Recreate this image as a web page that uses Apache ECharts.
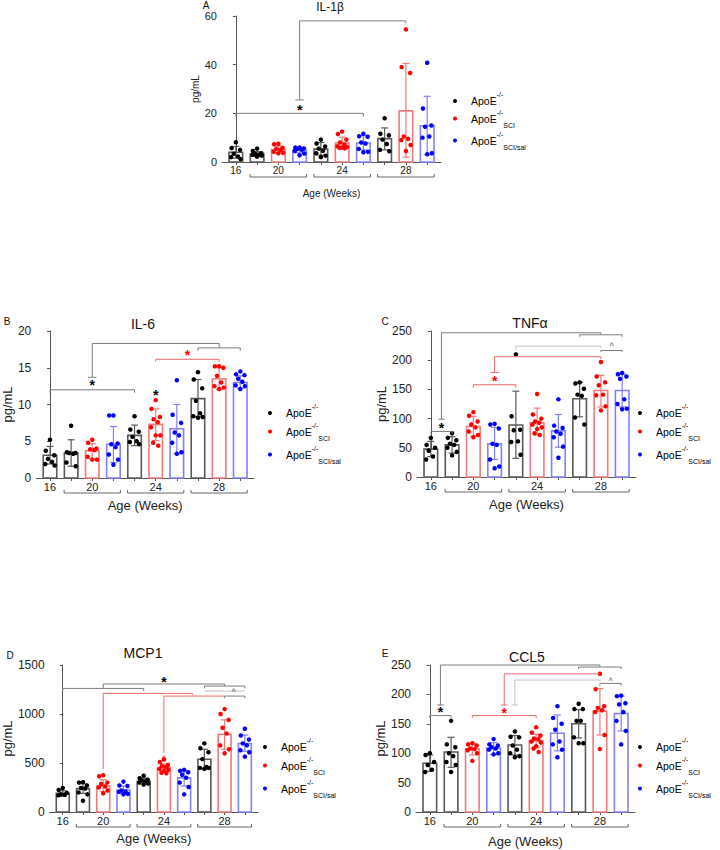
<!DOCTYPE html>
<html><head><meta charset="utf-8">
<script src="https://cdn.jsdelivr.net/npm/echarts@6/dist/echarts.min.js"></script>
<style>html,body{margin:0;padding:0;background:#fff}#c{width:720px;height:850px}</style>
</head><body><div id="c"></div>
<script>
// ---------- shared categories ----------
const groupLabels = ['16', '20', '24', '28'];
const groupLabelAt = [0, 2, 5, 8];          // bar index under which each age label sits
const groupSpans = [[1, 3], [4, 6], [7, 9]]; // bars covered by the age brackets
const barIndex = [0, 1, 2, 3, 4, 5, 6, 7, 8, 9];
const barGroup = [0, 0, 1, 2, 0, 1, 2, 0, 1, 2]; // 0 ApoE-/-, 1 SCI, 2 SCI/sal
const seriesNames = ['ApoE-/-', 'ApoE-/- SCI', 'ApoE-/- SCI/sal'];
const legendBase = 'ApoE', legendSup = '-/-', legendSub = ['', 'SCI', 'SCI/sal'];

// ---------- A: IL-1β ----------
const il1bMean  = [4.0, 3.3, 5.1, 4.8, 5.3, 7.8, 7.8, 9.6, 21.0, 14.9];
const il1bUpper = [6.4, 4.3, 6.5, 5.8, 8.0, 10.2, 10.8, 14.0, 40.5, 27.0];
const il1bLower = [1.6, 2.3, 3.8, 3.8, 2.8, 5.5, 5.0, 5.0, 2.0, 3.0];
const il1bPoints = [
  [8.1, 5.7, 5.0, 3.4, 2.3, 2.0, 1.2],
  [5.5, 4.5, 3.6, 3.4, 3.1, 3.0, 2.6, 2.2],
  [7.5, 7.3, 5.8, 5.4, 5.0, 4.2, 3.8, 3.6],
  [6.0, 5.9, 5.6, 5.4, 5.0, 4.5, 3.5, 2.8],
  [9.2, 7.6, 6.4, 5.5, 4.6, 3.6, 2.6, 2.0],
  [12.5, 11.5, 9.2, 8.0, 7.2, 6.5, 6.2, 6.0, 5.8, 5.6],
  [11.6, 10.6, 10.4, 8.0, 7.6, 5.4, 4.2, 4.0],
  [18.0, 11.6, 11.0, 9.2, 7.4, 5.0, 4.4],
  [54.5, 39.0, 36.6, 10.5, 9.5, 9.0, 7.0, 4.5],
  [40.8, 22.0, 15.0, 14.5, 10.5, 10.0, 3.6, 3.2]
];
const il1bLines = [
  {c: 0, p: [[0, 18.7], [0, 20], [6, 20], [6, 18.7]]},
  {c: 0, p: [[2.8, 25.5], [3.2, 25.5]]},
  {c: 0, p: [[3, 25.5], [3, 58], [8, 58], [8, 57]]}
];
const il1bMarks = [[3, 22.8, '*', 0]];

// ---------- B: IL-6 ----------
const il6Mean  = [3.1, 3.4, 3.7, 4.6, 5.8, 7.3, 6.7, 10.8, 13.5, 13.0];
const il6Upper = [4.3, 5.2, 4.7, 7.0, 7.2, 9.4, 10.0, 13.4, 15.0, 13.9];
const il6Lower = [1.9, 1.6, 2.6, 2.1, 4.4, 5.1, 3.3, 8.3, 12.0, 12.2];
const il6Points = [
  [5.2, 3.7, 3.1, 2.6, 2.2, 1.9, 1.7],
  [7.1, 3.5, 3.4, 3.4, 3.3, 2.1, 1.6],
  [5.2, 4.8, 4.0, 3.9, 3.8, 2.9, 2.5, 2.5],
  [8.5, 8.5, 4.7, 4.6, 4.2, 3.2, 2.5, 1.8],
  [8.4, 6.6, 6.3, 5.6, 5.0, 4.9, 4.6],
  [10.6, 9.4, 8.3, 8.0, 7.6, 6.9, 5.8, 5.8, 4.8, 4.4],
  [13.3, 8.6, 7.5, 6.2, 5.8, 4.8, 3.5, 3.3],
  [14.4, 13.4, 12.2, 10.5, 8.8, 8.4, 8.3, 8.2],
  [15.2, 15.2, 15.0, 13.9, 13.0, 12.5, 12.3, 12.1],
  [14.5, 14.1, 14.0, 13.5, 13.1, 12.6, 12.5, 12.1]
];
const il6Lines = [
  {c: 0, p: [[0, 11.6], [0, 12.0], [4, 12.0], [4, 11.6]]},
  {c: 0, p: [[1.8, 13.7], [2.2, 13.7]]},
  {c: 0, p: [[2, 13.7], [2, 18.3], [8, 18.3], [8, 17.7]]},
  {c: 0, p: [[7, 17.3], [7, 17.7], [9, 17.7], [9, 17.3]]},
  {c: 1, p: [[5, 15.8], [5, 16.15], [8, 16.15], [8, 15.8]]}
];
const il6Marks = [[2, 13.0, '*', 0], [6.5, 17.2, '*', 1], [5, 11.7, '*', 0]];

// ---------- C: TNFα ----------
const tnfMean  = [47.8, 55, 86.5, 57, 89, 93, 79, 134, 148, 148];
const tnfUpper = [61, 69, 104, 85, 147, 118, 107, 162, 174, 176];
const tnfLower = [35, 41, 70, 30, 32, 72, 51, 103, 120, 120];
const tnfPoints = [
  [67, 55, 50, 45, 35, 30],
  [75, 67, 63, 57, 55, 50, 43, 37],
  [111, 105, 95, 90, 85, 78, 72, 68],
  [91, 90, 83, 57, 55, 30, 18, 15],
  [210, 104, 81, 80, 61, 60, 38],
  [142, 107, 100, 95, 93, 90, 85, 82, 75, 72],
  [133, 88, 84, 78, 74, 68, 52, 33],
  [162, 160, 151, 141, 139, 102, 90],
  [197, 172, 162, 157, 141, 140, 121, 114],
  [178, 176, 172, 168, 133, 125, 117, 116]
];
const tnfLines = [
  {c: 0, p: [[0, 74], [0, 78], [1, 78], [1, 74]]},
  {c: 0, p: [[0.35, 99], [0.65, 99]]},
  {c: 0, p: [[0.5, 99], [0.5, 247], [8, 247], [8, 243.5]]},
  {c: 0, p: [[7, 240], [7, 243.5], [9, 243.5], [9, 240]]},
  {c: 2, p: [[4, 217], [4, 224], [8, 224], [8, 221]]},
  {c: 0, p: [[8, 214], [8, 216.6], [9, 216.6], [9, 214]]},
  {c: 1, p: [[2, 153], [2, 158], [4, 158], [4, 153]]},
  {c: 1, p: [[2.8, 179], [3.2, 179]]},
  {c: 1, p: [[3, 179], [3, 206], [8, 206], [8, 202]]}
];
const tnfMarks = [[0.5, 89, '*', 0], [3, 170, '*', 1], [8.5, 227, '^', 0]];

// ---------- D: MCP1 ----------
const mcp1Mean  = [190, 239, 266, 225, 313, 450, 348, 539, 794, 699];
const mcp1Upper = [217, 288, 330, 265, 345, 490, 420, 640, 940, 785];
const mcp1Lower = [160, 190, 210, 185, 285, 410, 265, 440, 640, 620];
const mcp1Points = [
  [245, 225, 195, 180, 175, 170],
  [305, 300, 270, 245, 240, 200, 180, 115],
  [375, 365, 300, 285, 260, 250, 220, 190],
  [310, 270, 265, 220, 210, 205, 185, 180],
  [370, 345, 330, 320, 315, 300, 290, 280],
  [535, 510, 480, 470, 460, 440, 430, 420, 400, 395],
  [430, 420, 405, 380, 350, 300, 255, 180],
  [700, 650, 610, 540, 460, 450, 450, 440],
  [1050, 1000, 940, 860, 800, 680, 640, 600],
  [850, 780, 740, 700, 680, 630, 610, 565]
];
const mcp1Lines = [
  {c: 0, p: [[0, 1235], [0, 1261], [4, 1261], [4, 1235]]},
  {c: 0, p: [[2, 1261], [2, 1306], [8, 1306], [8, 1285]]},
  {c: 0, p: [[7, 1262], [7, 1285], [9, 1285], [9, 1262]]},
  {c: 2, p: [[7, 1234], [9, 1234]]},
  {c: 0, p: [[8, 1160], [8, 1183], [9, 1183], [9, 1160]]},
  {c: 1, p: [[2, 440], [2, 1210], [6.4, 1210], [6.4, 1195]]},
  {c: 1, p: [[5, 600], [5, 1183], [8, 1183]]}
];
const mcp1Marks = [[5, 1354, '*', 0], [8.45, 1244, '^', 0], [5, 560, '^', 1]];

// ---------- E: CCL5 ----------
const ccl5Mean  = [83, 102, 107.5, 108.6, 114, 121, 134, 150, 171.6, 167.6];
const ccl5Upper = [97, 127, 117, 118, 130, 132, 165, 174, 210, 197];
const ccl5Lower = [69, 76, 97, 98, 97, 109, 104, 126, 131, 138];
const ccl5Points = [
  [100, 97, 85, 80, 72, 68],
  [155, 115, 110, 100, 95, 85, 80, 68],
  [117, 115, 113, 108, 107, 105, 100, 87],
  [124, 115, 113, 110, 108, 106, 100, 98],
  [137, 128, 127, 113, 106, 100, 95, 93],
  [144, 135, 130, 125, 124, 120, 118, 112, 108, 102],
  [180, 160, 150, 140, 120, 115, 106, 93],
  [184, 175, 175, 155, 155, 127, 117, 117],
  [235, 209, 180, 177, 173, 170, 131, 107],
  [198, 197, 185, 183, 170, 155, 138, 115]
];
const ccl5Lines = [
  {c: 0, p: [[0, 160], [0, 164], [1, 164], [1, 160]]},
  {c: 0, p: [[0.35, 182], [0.65, 182]]},
  {c: 0, p: [[0.5, 182], [0.5, 250], [8, 250], [8, 246.5]]},
  {c: 0, p: [[7, 243], [7, 246.5], [9, 246.5], [9, 243]]},
  {c: 1, p: [[2, 160], [2, 164], [5, 164], [5, 160]]},
  {c: 1, p: [[3.35, 182], [3.65, 182]]},
  {c: 1, p: [[3.5, 182], [3.5, 235], [8, 235]]},
  {c: 2, p: [[3.85, 182], [4.15, 182]]},
  {c: 2, p: [[4, 182], [4, 224.5], [8, 224.5], [8, 221]]},
  {c: 0, p: [[8, 215], [8, 218.7], [9, 218.7], [9, 215]]}
];
const ccl5Marks = [[0.5, 175, '*', 0], [3.5, 174, '*', 1], [8.5, 226, '^', 0]];

// ---------- styling / layout ----------
const FONT = '"Liberation Sans", Arial, Helvetica, sans-serif';
const DOT_COLORS = ['#000000', '#ff0000', '#0000ff'];
const BAR_COLORS = ['#5a5a5a', '#f17a7a', '#8282f7'];
const ANNOT_COLORS = ['#7d7d7d', '#f06a6a', '#c2c2c2'];
const JITTER = [0, -0.2, 0.2, -0.1, 0.1, -0.22, 0.22, 0, -0.12, 0.12, 0];
const HALF = 0.32;

const panels = [
  {letter: 'A', title: 'IL-1β', mean: il1bMean, upper: il1bUpper, lower: il1bLower, pts: il1bPoints,
   lines: il1bLines, marks: il1bMarks, max: 60, step: 20,
   grid: {left: 222, top: 16, width: 219, height: 146}, fs: 10, nameFs: 10, yGap: 20, xGap: 26,
   titleXY: [330, 7], titleFs: 12, letterXY: [206, 5], legendXY: [453, 91], legendGap: 2},
  {letter: 'B', title: 'IL-6', mean: il6Mean, upper: il6Upper, lower: il6Lower, pts: il6Points,
   lines: il6Lines, marks: il6Marks, max: 20, step: 5,
   grid: {left: 35, top: 331, width: 219, height: 147}, fs: 11, nameFs: 13, yGap: 15, xGap: 21,
   titleXY: [143, 324], titleFs: 14, letterXY: [7, 321], legendXY: [268, 403], legendGap: 3},
  {letter: 'C', title: 'TNFα', mean: tnfMean, upper: tnfUpper, lower: tnfLower, pts: tnfPoints,
   lines: tnfLines, marks: tnfMarks, max: 250, step: 50,
   grid: {left: 417, top: 331, width: 219, height: 146}, fs: 11, nameFs: 13, yGap: 23, xGap: 21,
   titleXY: [530, 323], titleFs: 14, letterXY: [385, 321], legendXY: [638, 403], legendGap: 3},
  {letter: 'D', title: 'MCP1', mean: mcp1Mean, upper: mcp1Upper, lower: mcp1Lower, pts: mcp1Points,
   lines: mcp1Lines, marks: mcp1Marks, max: 1500, step: 500,
   grid: {left: 39, top: 665, width: 219, height: 147}, fs: 11, nameFs: 13, yGap: 18, xGap: 20,
   titleXY: [143, 653], titleFs: 14, letterXY: [10, 655], legendXY: [263, 737], legendGap: 3},
  {letter: 'E', title: 'CCL5', mean: ccl5Mean, upper: ccl5Upper, lower: ccl5Lower, pts: ccl5Points,
   lines: ccl5Lines, marks: ccl5Marks, max: 250, step: 50,
   grid: {left: 416, top: 665, width: 219, height: 147}, fs: 11, nameFs: 13, yGap: 22, xGap: 23,
   titleXY: [527, 657], titleFs: 14, letterXY: [385, 653], legendXY: [638, 737], legendGap: 3}
];

function barRender(params, api) {
  const i = api.value(0), m = api.value(1), hi = api.value(2), lo = api.value(3), g = api.value(4);
  const col = BAR_COLORS[g];
  const a = api.coord([i - HALF, m]), b = api.coord([i + HALF, 0]);
  const t = api.coord([i, hi]), u = api.coord([i, lo]);
  const cw = 3.5;
  const ls = {stroke: col, lineWidth: 1.2};
  return {type: 'group', children: [
    {type: 'rect', shape: {x: a[0], y: a[1], width: b[0] - a[0], height: b[1] - a[1]},
     style: {fill: '#ffffff', stroke: col, lineWidth: 1.6}},
    {type: 'line', shape: {x1: t[0], y1: t[1], x2: u[0], y2: u[1]}, style: ls},
    {type: 'line', shape: {x1: t[0] - cw, y1: t[1], x2: t[0] + cw, y2: t[1]}, style: ls},
    {type: 'line', shape: {x1: u[0] - cw, y1: u[1], x2: u[0] + cw, y2: u[1]}, style: ls}
  ]};
}

function annotRender(lines, marks) {
  return function (params, api) {
    const children = [];
    lines.forEach(l => {
      children.push({type: 'polyline', shape: {points: l.p.map(q => api.coord(q))},
        style: {stroke: ANNOT_COLORS[l.c], lineWidth: 1, fill: null}});
    });
    marks.forEach(mk => {
      const p = api.coord([mk[0], mk[1]]);
      const star = mk[2] === '*';
      children.push({type: 'text', x: p[0], y: p[1] + (star ? 3 : 2),
        style: {text: mk[2], fill: mk[3] === 1 ? '#ff0000' : (star ? '#000' : '#555'),
          font: (star ? 'bold 14px ' : '9px ') + FONT,
          align: 'center', verticalAlign: 'middle', textAlign: 'center', textVerticalAlign: 'middle'}});
    });
    return {type: 'group', children};
  };
}

function bracketRender(params, api) {
  const children = [];
  groupSpans.forEach(s => {
    const a = api.coord([s[0] - 0.33, 0]), b = api.coord([s[1] + 0.33, 0]);
    const y = a[1] + 15;
    children.push({type: 'polyline', shape: {points: [[a[0], y - 3], [a[0], y], [b[0], y], [b[0], y - 3]]},
      style: {stroke: '#666', lineWidth: 1, fill: null}});
  });
  return {type: 'group', children};
}

const grids = [], xAxes = [], yAxes = [], series = [], legends = [], graphics = [];
panels.forEach((P, k) => {
  grids.push(Object.assign({containLabel: false}, P.grid));
  xAxes.push({
    type: 'value', gridIndex: k, min: -0.65, max: 9.65,
    name: 'Age (Weeks)', nameLocation: 'middle', nameGap: P.xGap,
    nameTextStyle: {fontFamily: FONT, fontSize: k === 0 ? 10 : 13, color: '#222'},
    axisLine: {show: true, lineStyle: {color: '#555', width: 1}},
    axisTick: {show: true, length: 3, customValues: barIndex, lineStyle: {color: '#555'}},
    axisLabel: {show: true, customValues: groupLabelAt, margin: 3, fontFamily: FONT, fontSize: P.fs, color: '#222',
      formatter: v => groupLabels[groupLabelAt.indexOf(Math.round(v))]},
    splitLine: {show: false}
  });
  yAxes.push({
    type: 'value', gridIndex: k, min: 0, max: P.max, interval: P.step,
    name: 'pg/mL', nameLocation: 'middle', nameGap: P.yGap,
    nameTextStyle: {fontFamily: FONT, fontSize: P.nameFs, color: '#222'},
    axisLine: {show: true, lineStyle: {color: '#555', width: 1}},
    axisTick: {show: true, length: 3, lineStyle: {color: '#555'}},
    axisLabel: {margin: 5, fontFamily: FONT, fontSize: P.fs + 1, color: '#222', formatter: v => String(v)},
    splitLine: {show: false}
  });
  series.push({
    type: 'custom', xAxisIndex: k, yAxisIndex: k, renderItem: barRender, z: 2, silent: true, clip: false,
    encode: {x: 0, y: 1},
    data: barIndex.map(i => [i, P.mean[i], P.upper[i], P.lower[i], barGroup[i]])
  });
  [0, 1, 2].forEach(g => {
    const data = [];
    barIndex.forEach(i => {
      if (barGroup[i] !== g) return;
      P.pts[i].forEach((v, j) => data.push([i + JITTER[j % JITTER.length], v]));
    });
    series.push({type: 'scatter', name: seriesNames[g], xAxisIndex: k, yAxisIndex: k, z: 4,
      symbol: 'circle', symbolSize: 4.5, itemStyle: {color: DOT_COLORS[g], opacity: 1}, silent: true, data});
  });
  series.push({type: 'custom', xAxisIndex: k, yAxisIndex: k, z: 5, silent: true, clip: false,
    renderItem: annotRender(P.lines, P.marks), data: [[0, 0]]});
  series.push({type: 'custom', xAxisIndex: k, yAxisIndex: k, z: 5, silent: true, clip: false,
    renderItem: bracketRender, data: [[0, 0]]});
  legends.push({
    orient: 'vertical', left: P.legendXY[0], top: P.legendXY[1], itemGap: P.legendGap,
    itemWidth: 4, itemHeight: 4, icon: 'circle', selectedMode: false, padding: 0,
    data: seriesNames,
    formatter: name => {
      const g = seriesNames.indexOf(name);
      return '{a|' + legendBase + '}{sup|' + legendSup + '}' + (legendSub[g] ? '{sub|' + legendSub[g] + '}' : '');
    },
    textStyle: {fontFamily: FONT, color: '#000', rich: {
      a: {fontFamily: FONT, fontSize: 10.5, color: '#000', lineHeight: 20, padding: [0, 0, 0, 9]},
      sup: {fontFamily: FONT, fontSize: 7, color: '#000', lineHeight: 10, verticalAlign: 'top'},
      sub: {fontFamily: FONT, fontSize: 7, color: '#000', lineHeight: 10, verticalAlign: 'bottom'}
    }}
  });
  graphics.push({type: 'text', x: P.titleXY[0], y: P.titleXY[1],
    style: {text: P.title, font: P.titleFs + 'px ' + FONT, fill: '#111',
      align: 'center', verticalAlign: 'middle', textAlign: 'center', textVerticalAlign: 'middle'}});
  graphics.push({type: 'text', x: P.letterXY[0], y: P.letterXY[1],
    style: {text: P.letter, font: '10px ' + FONT, fill: '#111',
      align: 'center', verticalAlign: 'middle', textAlign: 'center', textVerticalAlign: 'middle'}});
});

const chart = echarts.init(document.getElementById('c'), null, {renderer: 'svg', width: 720, height: 850});
chart.setOption({
  animation: false,
  backgroundColor: '#ffffff',
  textStyle: {fontFamily: FONT},
  grid: grids, xAxis: xAxes, yAxis: yAxes, series, legend: legends, graphic: graphics
});
</script></body></html>
